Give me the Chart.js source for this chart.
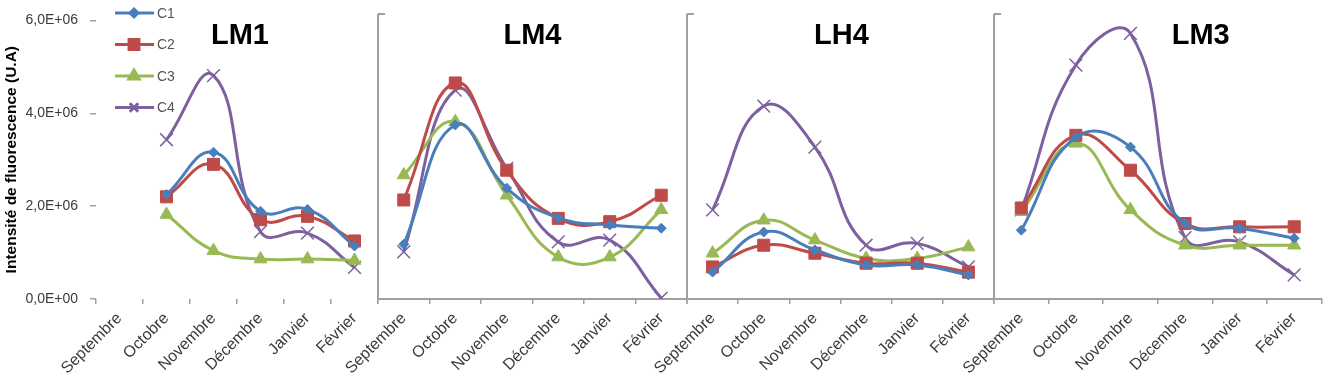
<!DOCTYPE html>
<html>
<head>
<meta charset="utf-8">
<script src="https://cdn.jsdelivr.net/npm/chart.js@4.4.1/dist/chart.umd.min.js"></script>
<style>
  body { margin: 0; background: #fff; }
  #wrap { position: relative; width: 1332px; height: 392px; }
  #wrap canvas { position: absolute; left: 0; top: 0; }
</style>
</head>
<body>
<div id="wrap">
  <canvas id="lm1" width="1332" height="392"></canvas>
  <canvas id="lm4" width="1332" height="392"></canvas>
  <canvas id="lh4" width="1332" height="392"></canvas>
  <canvas id="lm3" width="1332" height="392"></canvas>
</div>
<script>
// categories + series
const months = ['Septembre', 'Octobre', 'Novembre', 'Décembre', 'Janvier', 'Février'];
const seriesNames = ['C1', 'C2', 'C3', 'C4'];
const yTicks = [0, 2e6, 4e6, 6e6];
const yTickLabels = ['0,0E+00', '2,0E+06', '4,0E+06', '6,0E+06'];
const yTitle = 'Intensité de fluorescence (U.A)';

const lm1C1 = [null, 2.25e6, 3.16e6, 1.89e6, 1.93e6, 1.14e6];
const lm1C2 = [null, 2.2e6, 2.9e6, 1.71e6, 1.78e6, 1.25e6];
const lm1C3 = [null, 1.82e6, 1.04e6, 0.86e6, 0.86e6, 0.83e6];
const lm1C4 = [null, 3.43e6, 4.81e6, 1.45e6, 1.42e6, 0.68e6];

const lm4C1 = [1.16e6, 3.69e6, 2.35e6, 1.72e6, 1.57e6, 1.5e6];
const lm4C2 = [2.1e6, 4.58e6, 2.73e6, 1.71e6, 1.64e6, 2.2e6];
const lm4C3 = [2.63e6, 3.76e6, 2.2e6, 0.89e6, 0.89e6, 1.89e6];
const lm4C4 = [1.0e6, 4.43e6, 2.77e6, 1.21e6, 1.25e6, 0.02e6];

const lh4C1 = [0.57e6, 1.42e6, 1.04e6, 0.72e6, 0.72e6, 0.51e6];
const lh4C2 = [0.68e6, 1.14e6, 0.97e6, 0.76e6, 0.76e6, 0.57e6];
const lh4C3 = [0.97e6, 1.67e6, 1.25e6, 0.86e6, 0.86e6, 1.1e6];
const lh4C4 = [1.89e6, 4.09e6, 3.22e6, 1.14e6, 1.18e6, 0.68e6];

const lm3C1 = [1.46e6, 3.43e6, 3.22e6, 1.6e6, 1.5e6, 1.29e6];
const lm3C2 = [1.93e6, 3.47e6, 2.73e6, 1.6e6, 1.53e6, 1.53e6];
const lm3C3 = [1.85e6, 3.3e6, 1.89e6, 1.14e6, 1.14e6, 1.14e6];
const lm3C4 = [1.89e6, 4.96e6, 5.63e6, 1.3e6, 1.21e6, 0.51e6];

const axisGray = '#a0a0a0';
const textGray = '#3a3a3a';
const fontFam = '"Liberation Sans", Arial, sans-serif';
const seriesStyle = [
  { color: '#4a7ebb', pointStyle: 'rectRot', pointRadius: 5, legendRadius: 4 },
  { color: '#be4b48', pointStyle: 'rect', pointRadius: 8.5, legendRadius: 7 },
  { color: '#98b954', pointStyle: 'triangle', pointRadius: 7.5, legendRadius: 6 },
  { color: '#7d60a0', pointStyle: 'crossRot', pointRadius: 9, legendRadius: 6 }
];

function markerOpts(s, r) {
  return {
    pointStyle: s.pointStyle, radius: r, rotation: 0,
    borderWidth: s.pointStyle === 'crossRot' ? 1.5 : 1
  };
}

// big bold panel name drawn inside the plot
const panelTitle = {
  id: 'panelTitle',
  afterDraw(chart, args, opts) {
    const { ctx, chartArea } = chart;
    ctx.save();
    ctx.font = 'bold 29px ' + fontFam;
    ctx.fillStyle = '#000';
    ctx.textAlign = 'center';
    ctx.textBaseline = 'alphabetic';
    ctx.fillText(opts.text, (chartArea.left + chartArea.right) / 2 + opts.dx, 44);
    // small inward tick at the top of the axis
    if (opts.topTick) {
      ctx.strokeStyle = axisGray;
      ctx.lineWidth = 2;
      ctx.beginPath();
      ctx.moveTo(chartArea.left, chartArea.top - 2);
      ctx.lineTo(chartArea.left + 7, chartArea.top - 2);
      ctx.moveTo(chartArea.left, chartArea.top - 2);
      ctx.lineTo(chartArea.left, chartArea.top);
      ctx.stroke();
    }
    ctx.restore();
  }
};

// vertical key in the first panel
const seriesKey = {
  id: 'seriesKey',
  afterDraw(chart, args, opts) {
    if (!opts.show) return;
    const ctx = chart.ctx;
    ctx.save();
    chart.data.datasets.forEach((ds, i) => {
      const s = seriesStyle[i];
      const y = 13 + i * 31.5;
      ctx.strokeStyle = s.color;
      ctx.lineWidth = 3;
      ctx.beginPath();
      ctx.moveTo(115, y);
      ctx.lineTo(154, y);
      ctx.stroke();
      ctx.fillStyle = s.color;
      ctx.strokeStyle = s.color;
      Chart.helpers.drawPoint(ctx, markerOpts(s, s.legendRadius), 134, y);
      ctx.fillStyle = '#555';
      ctx.font = '14px ' + fontFam;
      ctx.textAlign = 'left';
      ctx.textBaseline = 'middle';
      ctx.fillText(ds.label, 157, y + 1);
    });
    ctx.restore();
  }
};

function makePanel(id, name, series, left, right, first, dx) {
  const yW = first ? 96 : 8;
  new Chart(document.getElementById(id), {
    type: 'line',
    data: {
      labels: months,
      datasets: series.map((vals, i) => {
        const s = seriesStyle[i];
        return {
          label: seriesNames[i],
          data: vals,
          borderColor: s.color,
          backgroundColor: s.color,
          borderWidth: 3,
          tension: 0.45,
          pointStyle: s.pointStyle,
          pointRadius: s.pointRadius,
          pointBorderWidth: s.pointStyle === 'crossRot' ? 1.5 : 1,
          pointBorderColor: s.color,
          pointBackgroundColor: s.color
        };
      })
    },
    options: {
      responsive: false,
      animation: false,
      events: [],
      layout: { padding: { left: left - yW, right: 1332 - right, top: 16, bottom: 0 } },
      plugins: {
        legend: { display: false },
        tooltip: { enabled: false },
        panelTitle: { text: name, dx: dx, topTick: !first },
        seriesKey: { show: first }
      },
      scales: {
        x: {
          offset: true,
          grid: { offset: true, drawOnChartArea: false, tickLength: 5, color: axisGray, lineWidth: 1.5 },
          border: { display: !first, color: axisGray, width: 2 },
          ticks: {
            autoSkip: false, minRotation: 45, maxRotation: 45, padding: 5,
            color: textGray, font: { family: fontFam, size: 16 }
          },
          afterFit(scale) { scale.height = 93; }
        },
        y: {
          min: 0, max: 6e6,
          afterBuildTicks(scale) { scale.ticks = yTicks.map(v => ({ value: v })); },
          grid: { drawOnChartArea: false, drawTicks: first, tickLength: 6, color: axisGray, lineWidth: 1.5 },
          border: { display: !first, color: axisGray, width: 2 },
          ticks: {
            display: first, padding: 12, color: textGray,
            font: { family: fontFam, size: 14 },
            callback: v => yTickLabels[yTicks.indexOf(v)]
          },
          title: {
            display: first, text: yTitle, color: '#000', padding: 2,
            font: { family: fontFam, size: 15.5, weight: 'bold' }
          },
          afterFit(scale) { scale.width = yW; }
        }
      }
    },
    plugins: [panelTitle, seriesKey]
  });
}

makePanel('lm1', 'LM1', [lm1C1, lm1C2, lm1C3, lm1C4], 96, 378, true, 3);
makePanel('lm4', 'LM4', [lm4C1, lm4C2, lm4C3, lm4C4], 378, 687, false, 0);
makePanel('lh4', 'LH4', [lh4C1, lh4C2, lh4C3, lh4C4], 687, 994, false, 1);
makePanel('lm3', 'LM3', [lm3C1, lm3C2, lm3C3, lm3C4], 994, 1331, false, 43);
</script>
</body>
</html>
